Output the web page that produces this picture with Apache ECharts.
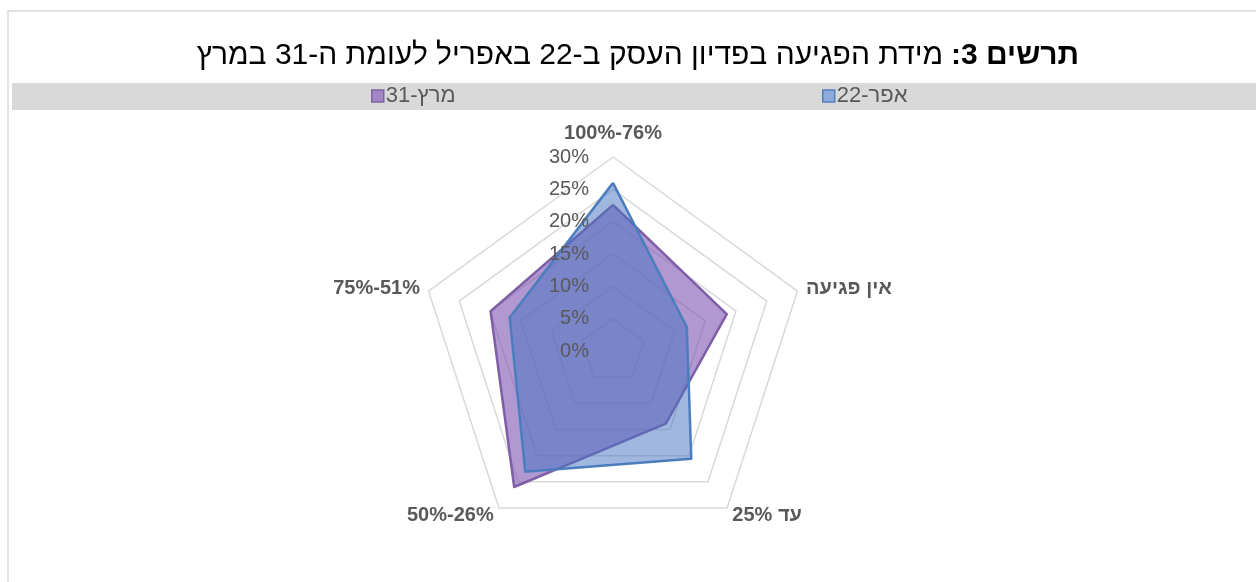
<!DOCTYPE html>
<html>
<head>
<meta charset="utf-8">
<script src="https://cdn.jsdelivr.net/npm/echarts@6/dist/echarts.min.js"></script>
<style>
html,body{margin:0;padding:0;background:#fff;}
#chart{width:1256px;height:582px;}
</style>
</head>
<body>
<div id="chart"></div>
<script>
// Indicators, listed counter-clockwise from the top (ECharts order)
const categories = ['100%-76%', '75%-51%', '50%-26%', 'עד 25%', 'אין פגיעה'];
const seriesNames = ['מרץ-31', 'אפר-22'];
const march31 = [22.6, 19.9, 26.0, 13.9, 18.5];
const april22 = [26.0, 16.8, 23.1, 20.6, 12.0];
const tickMax = 30;
const titleBold = '\u200Fתרשים 3:\u200F';
const titleRest = 'מידת הפגיעה בפדיון העסק ב-22 באפריל לעומת ה-31 במרץ';

const purple = '#8064A2';
const blue = '#4F81BD';
const textGrey = '#595959';
const font = 'Liberation Sans, Arial, sans-serif';

const baseRadar = {
  center: [613, 351],
  radius: 194,
  startAngle: 90,
  splitNumber: 6,
  shape: 'polygon',
  splitArea: { show: false },
  axisLine: { show: false },
  axisTick: { show: false },
  axisLabel: { show: false }
};

const chart = echarts.init(document.getElementById('chart'));
chart.setOption({
  animation: false,
  backgroundColor: '#ffffff',
  textStyle: { fontFamily: font },
  title: {
    text: '{r|' + titleRest + '}{s| }{b|' + titleBold + '}',
    left: 633, textAlign: 'center', top: 36,
    textStyle: {
      rich: {
        r: { fontSize: 30, color: '#000', fontWeight: 'normal', fontFamily: font },
        s: { fontSize: 30, width: 8 },
        b: { fontSize: 30, color: '#000', fontWeight: 'bold', fontFamily: font }
      }
    }
  },
  graphic: [
    { type: 'rect', z: -10, shape: { x: 8, y: 11, width: 1300, height: 620 },
      style: { fill: 'none', stroke: '#d9d9d9', lineWidth: 1.5 } },
    { type: 'rect', z: -9, shape: { x: 12, y: 83, width: 1300, height: 27 },
      style: { fill: '#d9d9d9' } }
  ],
  legend: [
    { left: 371, top: 85, padding: 0, itemWidth: 12, itemHeight: 12, itemGap: 3,
      data: [{ name: seriesNames[0], icon: 'rect', itemStyle: { color: '#a385c8', borderColor: purple, borderWidth: 1.5 } }],
      textStyle: { color: textGrey, fontSize: 22, fontFamily: font, padding: [0,0,0,-3] } },
    { left: 822, top: 85, padding: 0, itemWidth: 12, itemHeight: 12, itemGap: 3,
      data: [{ name: seriesNames[1], icon: 'rect', itemStyle: { color: '#8eaadc', borderColor: blue, borderWidth: 1.5 } }],
      textStyle: { color: textGrey, fontSize: 22, fontFamily: font, padding: [0,0,0,-3] } }
  ],
  radar: [
    Object.assign({}, baseRadar, {
      z: 1,
      axisName: { show: false },
      splitLine: { lineStyle: { color: '#d9d9d9', width: 1.5 } },
      indicator: categories.map(c => ({ name: c, min: 0, max: tickMax }))
    }),
    Object.assign({}, baseRadar, {
      z: 10,
      nameGap: 9,
      axisName: { color: textGrey, fontSize: 20, fontWeight: 'bold', fontFamily: font },
      splitLine: { show: false },
      indicator: categories.map((c, i) => {
        const o = { name: c, min: 0, max: tickMax };
        if (i === 0) {
          o.nameGap = 14;
          o.axisLabel = { show: true, color: textGrey, fontSize: 20, fontFamily: font, margin: 24, formatter: '{value}%' };
        }
        return o;
      })
    })
  ],
  series: [
    { type: 'radar', radarIndex: 0, name: seriesNames[0], symbol: 'none', z: 2,
      lineStyle: { color: purple, width: 2.5 },
      itemStyle: { color: purple },
      areaStyle: { color: 'rgba(127,83,177,0.6)', opacity: 1 },
      data: [{ name: seriesNames[0], value: march31 }] },
    { type: 'radar', radarIndex: 0, name: seriesNames[1], symbol: 'none', z: 3,
      lineStyle: { color: blue, width: 2.5 },
      itemStyle: { color: blue },
      areaStyle: { color: 'rgba(69,116,194,0.51)', opacity: 1 },
      data: [{ name: seriesNames[1], value: april22 }] }
  ]
});
</script>
</body>
</html>
